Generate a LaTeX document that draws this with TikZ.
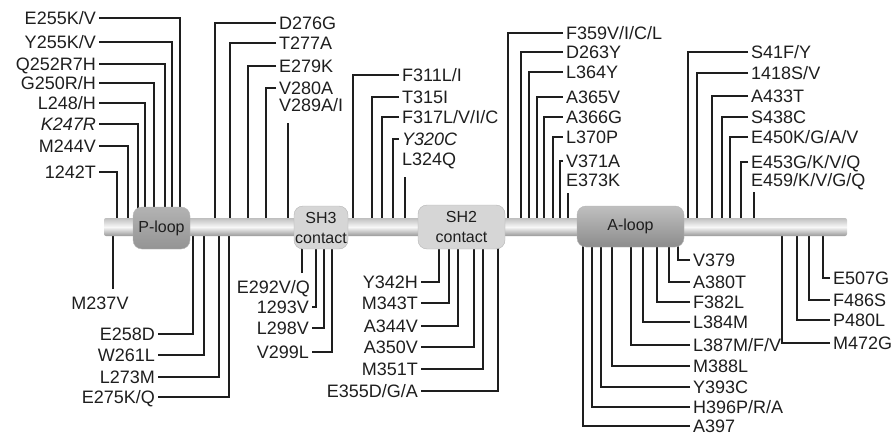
\documentclass[tikz,border=0pt]{standalone}
\usepackage{fontspec}
\setmainfont{Liberation Sans}
\usetikzlibrary{backgrounds}
\definecolor{inkgray}{HTML}{1E1E1E}
\definecolor{boxedge}{HTML}{B4B4B4}
\begin{document}
\begin{tikzpicture}[x=1pt,y=-1pt,font=\fontsize{18}{20}\selectfont]
	\useasboundingbox (0,0) rectangle (891,436);

	% Define node styles
	\tikzstyle{mut label} = [inner xsep=3pt, inner ysep=0pt, text height=12.9pt, text depth=0pt, text=inkgray]
	\tikzstyle{lab east} = [mut label, anchor=east]
	\tikzstyle{lab west} = [mut label, anchor=west]
	\tikzstyle{domain box} = [draw=boxedge, rounded corners=9pt, inner sep=0pt, align=center, text=inkgray, font=\fontsize{16}{20}\selectfont]
	\tikzstyle{lead line} = [draw=inkgray, line width=1.3pt]

	% Place the chain and its domains
	\node[minimum width=743pt, minimum height=18pt, inner sep=0pt, top color=black!25, bottom color=black!40, middle color=black!3, rounded corners=2pt] (bar) at (475.5,227) {};
	\node[domain box, minimum width=57pt, minimum height=42pt, top color=black!30, bottom color=black!42] (ploop) at (161.5,228) {P-loop};
	\node[domain box, minimum width=54pt, minimum height=43pt, fill=black!16] (sh3) at (321,227.5) {SH3\\contact};
	\node[domain box, minimum width=87pt, minimum height=44pt, fill=black!16] (sh2) at (461.5,227) {SH2\\contact};
	\node[domain box, minimum width=107pt, minimum height=41pt, top color=black!25, bottom color=black!45] (aloop) at (630.5,226.5) {A-loop};

	% Place labels above the chain
	\node[lab east] (e255) at (99,18) {E255K/V};
	\node[lab east] (y255) at (99,42) {Y255K/V};
	\node[lab east] (q252) at (99,64) {Q252R7H};
	\node[lab east] (g250) at (99,83) {G250R/H};
	\node[lab east] (l248) at (99,103) {L248/H};
	\node[lab east] (k247) at (99,124) {\textit{K247R}};
	\node[lab east] (m244) at (99,146) {M244V};
	\node[lab east] (i242) at (99,172) {1242T};

	\node[lab west] (d276) at (276,23) {D276G};
	\node[lab west] (t277) at (276,43) {T277A};
	\node[lab west] (e279) at (276,66) {E279K};
	\node[lab west] (v280) at (276,88) {V280A};
	\node[lab west] (v289) at (276,105) {V289A/I};

	\node[lab west] (f311) at (399,75) {F311L/I};
	\node[lab west] (t315) at (399,97) {T315I};
	\node[lab west] (f317) at (399,117) {F317L/V/I/C};
	\node[lab west] (y320) at (399,139) {\textit{Y320C}};
	\node[lab west] (l324) at (399,159) {L324Q};

	\node[lab west] (f359) at (563,33) {F359V/I/C/L};
	\node[lab west] (d263) at (563,52) {D263Y};
	\node[lab west] (l364) at (563,72) {L364Y};
	\node[lab west] (a365) at (563,97) {A365V};
	\node[lab west] (a366) at (563,117) {A366G};
	\node[lab west] (l370) at (563,137) {L370P};
	\node[lab west] (v371) at (563,161) {V371A};
	\node[lab west] (e373) at (563,180) {E373K};

	\node[lab west] (s41) at (748,52) {S41F/Y};
	\node[lab west] (i418) at (748,73) {1418S/V};
	\node[lab west] (a433) at (748,96) {A433T};
	\node[lab west] (s438) at (748,117) {S438C};
	\node[lab west] (e450) at (748,137) {E450K/G/A/V};
	\node[lab west] (e453) at (748,162) {E453G/K/V/Q};
	\node[lab west] (e459) at (748,180) {E459/K/V/G/Q};

	% Place labels below the chain
	\node[mut label] (m237) at (100,303) {M237V};
	\node[lab east] (e258) at (158,334) {E258D};
	\node[lab east] (w261) at (158,355) {W261L};
	\node[lab east] (l273) at (158,377) {L273M};
	\node[lab east] (e275) at (158,397) {E275K/Q};

	\node[lab east] (e292) at (313,287) {E292V/Q};
	\node[lab east] (i293) at (312,307) {1293V};
	\node[lab east] (l298) at (312,328) {L298V};
	\node[lab east] (v299) at (312,352) {V299L};

	\node[lab east] (y342) at (421,282) {Y342H};
	\node[lab east] (m343) at (421,303) {M343T};
	\node[lab east] (a344) at (421,326) {A344V};
	\node[lab east] (a350) at (421,347) {A350V};
	\node[lab east] (m351) at (421,369) {M351T};
	\node[lab east] (e355) at (421,391) {E355D/G/A};

	\node[lab west] (v379) at (690,260) {V379};
	\node[lab west] (a380) at (690,282) {A380T};
	\node[lab west] (f382) at (690,302) {F382L};
	\node[lab west] (l384) at (690,322) {L384M};
	\node[lab west] (l387) at (690,345) {L387M/F/V};
	\node[lab west] (m388) at (690,366) {M388L};
	\node[lab west] (y393) at (690,387) {Y393C};
	\node[lab west] (h396) at (690,407) {H396P/R/A};
	\node[lab west] (a397) at (690,426) {A397};

	\node[lab west] (e507) at (830,278) {E507G};
	\node[lab west] (f486) at (830,300) {F486S};
	\node[lab west] (p480) at (830,320) {P480L};
	\node[lab west] (m472) at (830,343) {M472G};

	% Free ends of the plain ticks
	\coordinate (v289end) at (288,123);
	\coordinate (l324end) at (405,177);
	\coordinate (e373end) at (568,193);
	\coordinate (e459end) at (754,192);
	\coordinate (m237end) at (113,289);
	\coordinate (e292end) at (302,273);

	% Draw leader lines behind the chain
	\begin{scope}[on background layer]
	\foreach \lab/\x in {
		e255/180, y255/172, q252/165, g250/154,
		l248/145, k247/138, m244/128, i242/117,
		e258/193, w261/204, l273/219, e275/229,
		i293/316, l298/324, v299/332,
		y342/439, m343/449, a344/458,
		a350/474, m351/483, e355/498}
	\draw[lead line] (\lab.east) -| (\x,0 |- bar.center);

	\foreach \lab/\x in {
		d276/215, t277/230, e279/248, v280/266,
		f311/353, t315/372, f317/382, y320/393,
		f359/508, d263/521, l364/529, a365/537,
		a366/544, l370/553, v371/560,
		s41/688, i418/697, a433/712, s438/722,
		e450/730, e453/741,
		v379/678, a380/669, f382/657, l384/643,
		l387/631, m388/612, y393/601, h396/592, a397/583,
		e507/823, f486/809, p480/797, m472/782}
	\draw[lead line] (\lab.west) -| (\x,0 |- bar.center);

	\foreach \c in {v289end, l324end, e373end, e459end, m237end, e292end}
	\draw[lead line] (\c) -- (\c |- bar.center);
	\end{scope}

\end{tikzpicture}
\end{document}
